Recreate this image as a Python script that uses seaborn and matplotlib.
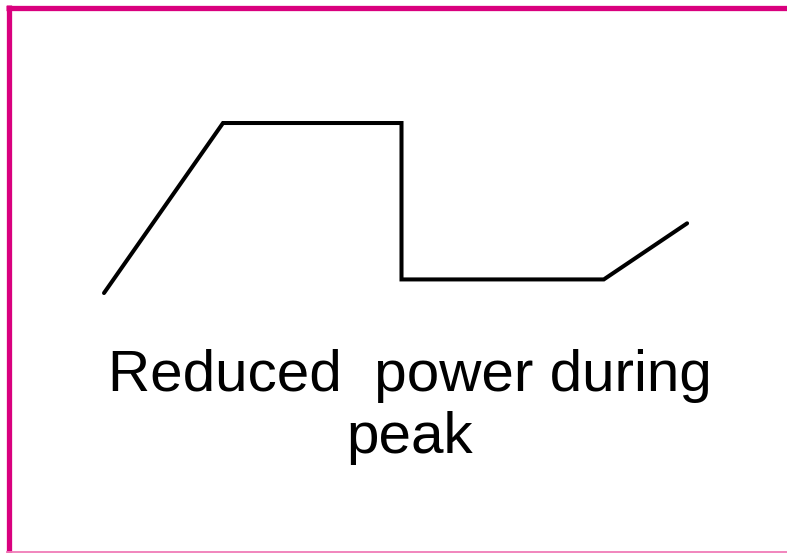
import matplotlib
matplotlib.use("Agg")
import matplotlib.pyplot as plt
import seaborn as sns

# power profile (time in hours, power in arbitrary units)
time = [0, 2.0, 5.0, 5.0, 8.4, 9.8]
power = [1.0, 11.0, 11.0, 1.8, 1.8, 5.1]
label_line1 = "Reduced  power during"
label_line2 = "peak"

sns.set_style("white")
plt.rcParams['font.family'] = ['Liberation Sans', 'DejaVu Sans']

fig = plt.figure(figsize=(7.87, 5.53), dpi=100)
ax = fig.add_axes([0, 0, 1, 1])

sns.lineplot(x=time, y=power, sort=False, estimator=None, color='black',
             linewidth=2.9, ax=ax)
ax.lines[0].set_solid_joinstyle('miter')

ax.set_xlim(-1.748, 11.479)
ax.set_ylim(-14.29, 18.235)
ax.axis('off')

ax.text(0.521, 0.2929, label_line1, transform=ax.transAxes, ha='center',
        va='baseline', fontsize=42, color='black')
ax.text(0.521, 0.1808, label_line2, transform=ax.transAxes, ha='center',
        va='baseline', fontsize=42, color='black')

# frame border
ax.plot([8.5 / 787, 8.5 / 787], [0, 1 - 5 / 553], transform=ax.transAxes,
        color='#d9007e', lw=3.8, solid_capstyle='butt', clip_on=False)
ax.plot([6 / 787, 1], [1 - 7.5 / 553] * 2, transform=ax.transAxes,
        color='#d9007e', lw=3.8, solid_capstyle='butt', clip_on=False)
ax.plot([6 / 787, 1], [1.5 / 553] * 2, transform=ax.transAxes,
        color='#f07cb8', lw=1.3, solid_capstyle='butt', clip_on=False)

fig.savefig("out.png", dpi=100)
